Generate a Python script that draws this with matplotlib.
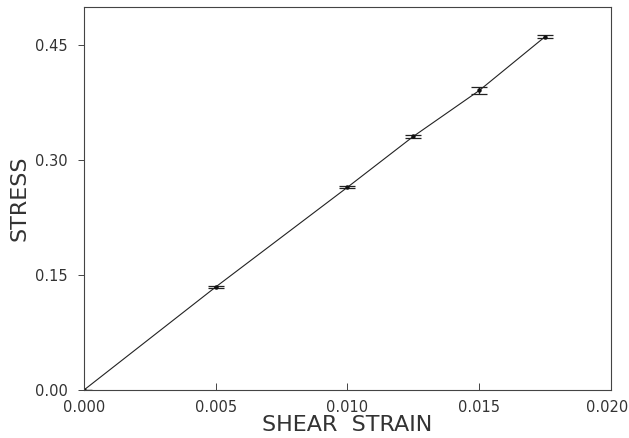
import numpy as np
import matplotlib.pyplot as plt
from matplotlib.transforms import ScaledTranslation

# data
strain = [0.0, 0.005, 0.010, 0.0125, 0.015, 0.0175]
stress = [0.0, 0.1345, 0.2647, 0.3311, 0.3910, 0.4613]
stress_err = [0.0, 0.0012, 0.0012, 0.0022, 0.0040, 0.0023]

x_ticks = [0.000, 0.005, 0.010, 0.015, 0.020]
y_ticks = [0.00, 0.15, 0.30, 0.45]

plt.rcParams['font.family'] = ['DejaVu Sans']
txt = '#333333'

fig = plt.figure(figsize=(6.29, 4.38), dpi=100)
ax = fig.add_axes([0.1335, 0.1096, 0.8379, 0.8744])

ax.plot(strain, stress, color='#222222', lw=0.8)
ax.errorbar(strain, stress, yerr=stress_err, fmt='o', ms=2.2, color='#111111',
            ecolor='#222222', elinewidth=0.9, capsize=6, capthick=0.9)

ax.set_xlim(0, 0.020)
ax.set_ylim(0, 0.5)
ax.set_xticks(x_ticks)
ax.set_xticklabels(['%.3f' % v for v in x_ticks])
ax.set_yticks(y_ticks)
ax.set_yticklabels(['%.2f' % v for v in y_ticks])

ax.tick_params(axis='x', direction='in', length=5, width=0.7, colors='#444444',
               labelsize=10.5, labelcolor=txt, pad=7)
ax.tick_params(axis='y', direction='out', length=4.5, width=0.7, colors='#444444',
               labelsize=10.5, labelcolor=txt, pad=7)
for s in ax.spines.values():
    s.set_linewidth(0.8)
    s.set_color('#444444')

# keep the last x label inside the figure
last = ax.get_xticklabels()[-1]
last.set_transform(last.get_transform() + ScaledTranslation(-3 / 72, 0, fig.dpi_scale_trans))

ax.set_xlabel('SHEAR  STRAIN', fontsize=16, color=txt, labelpad=0)
ax.set_ylabel('STRESS', fontsize=16, color=txt, labelpad=4)

fig.savefig('out.png', dpi=100)
